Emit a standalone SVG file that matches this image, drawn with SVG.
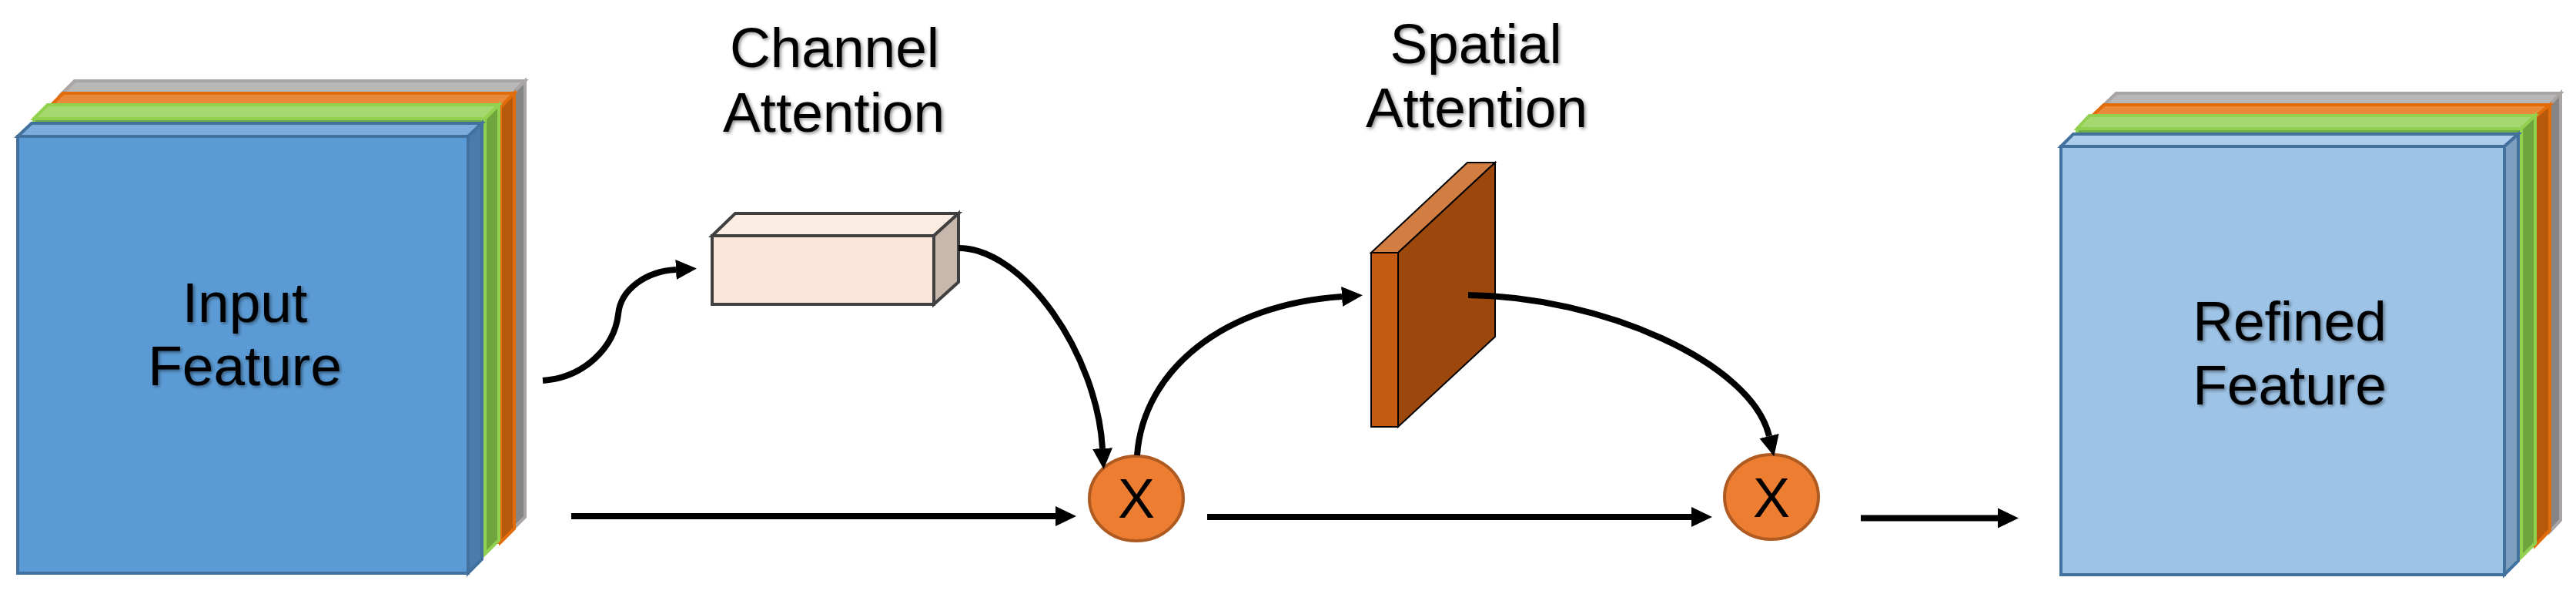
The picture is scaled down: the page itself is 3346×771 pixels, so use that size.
<svg xmlns="http://www.w3.org/2000/svg" width="3346" height="771" viewBox="0 0 3346 771">
<defs>
<style>
.t{font-family:"Liberation Sans",Arial,sans-serif;font-size:73px;fill:#000;text-anchor:middle}
.x{font-size:72px}
.s{filter:url(#sh)}
.c{fill:none;stroke:#000;stroke-width:8}
.a{marker-end:url(#ah)}
.b{stroke:#41719c;stroke-width:4;stroke-linejoin:miter}
.g{stroke:#92d050;stroke-width:4}
.o{stroke:#e36c0a;stroke-width:4}
.y{stroke:#a9a5a5;stroke-width:4}
.op{fill:#ed7d31;stroke:#ae5a21;stroke-width:4}
</style>
<filter id="sh" x="-10%" y="-10%" width="120%" height="130%"><feDropShadow dx="2" dy="2" stdDeviation="2" flood-color="#000" flood-opacity="0.45"/></filter>
<marker id="ah" markerUnits="userSpaceOnUse" markerWidth="27" markerHeight="28" refX="0" refY="14" orient="auto"><path d="M0 1L27 14L0 27Z" fill="#000"/></marker>
</defs>
<rect width="3346" height="771" fill="#fff"/>
<g id="input-feature">
<g class="y"><path d="M97 105H682V671L664 689H79V123Z" fill="#a5a5a5"/><path d="M79 123L97 105H682L664 123Z" fill="#b7b7b7"/><path d="M664 123L682 105V671L664 689Z" fill="#858585"/></g>
<g class="o"><path d="M82 121H668V686L650 704H64V139Z" fill="#ed7d31"/><path d="M64 139L82 121H668L650 139Z" fill="#e98a3b"/><path d="M650 139L668 121V686L650 704Z" fill="#b85a0b"/></g>
<g class="g"><path d="M62 136H648V701L630 719H44V154Z" fill="#70ad47"/><path d="M44 154L62 136H648L630 154Z" fill="#a5d96f"/><path d="M630 154L648 136V701L630 719Z" fill="#70a43c"/></g>
<g class="b"><path d="M23 177H608V744H23Z" fill="#5b9bd5"/><path d="M23 177L41 160H626L608 177Z" fill="#7cacdd"/><path d="M608 177L626 160V726L608 744Z" fill="#497cab"/></g>
<text class="t s" x="318" y="418">Input</text><text class="t s" x="318" y="500">Feature</text>
</g>
<g id="channel-attention">
<path d="M925 306L955 277H1245L1213 306Z" fill="#fbece1" stroke="#404040" stroke-width="4"/>
<path d="M1213 306L1245 277V366L1213 395Z" fill="#c8b7ab" stroke="#404040" stroke-width="4"/>
<rect x="925" y="306" width="288" height="89" fill="#fae5d8" stroke="#404040" stroke-width="4"/>
<text class="t s" x="1084" y="87">Channel</text><text class="t s" x="1083" y="171">Attention</text>
</g>
<g id="spatial-attention">
<path d="M1781 328L1906 211H1942L1816 328Z" fill="#d27d41" stroke="#000" stroke-width="2"/>
<path d="M1816 328L1942 211V437L1816 554Z" fill="#9c480c" stroke="#000" stroke-width="2"/>
<rect x="1781" y="328" width="35" height="226" fill="#c55a11" stroke="#000" stroke-width="2"/>
<text class="t s" x="1917" y="82">Spatial</text><text class="t s" x="1918" y="165">Attention</text>
</g>
<g id="multiply-1"><ellipse class="op" cx="1476" cy="647" rx="61" ry="55"/><text class="t x" x="1476" y="672">X</text></g>
<g id="multiply-2"><ellipse class="op" cx="2301" cy="645" rx="61" ry="55"/><text class="t x" x="2301" y="671">X</text></g>
<g id="refined-feature">
<g class="y"><path d="M2749 121H3326V675L3312 690H2733V136Z" fill="#a5a5a5"/><path d="M2733 136L2749 121H3326L3312 136Z" fill="#b7b7b7"/><path d="M3312 136L3326 121V675L3312 690Z" fill="#858585"/></g>
<g class="o"><path d="M2733 136H3312V688L3293 708H2716V152Z" fill="#ed7d31"/><path d="M2716 152L2733 136H3312L3293 152Z" fill="#e98a3b"/><path d="M3293 152L3312 136V688L3293 708Z" fill="#b85a0b"/></g>
<g class="g"><path d="M2714 150H3293V705L3275 723H2698V167Z" fill="#70ad47"/><path d="M2698 167L2714 150H3293L3275 167Z" fill="#a5d96f"/><path d="M3275 167L3293 150V705L3275 723Z" fill="#70a43c"/></g>
<g class="b"><path d="M2677 190H3253V746H2677Z" fill="#9dc3e6"/><path d="M2677 190L2693 174H3271L3253 190Z" fill="#aecdea"/><path d="M3253 190L3271 174V728L3253 746Z" fill="#7e9fbf"/></g>
<text class="t s" x="2974" y="442">Refined</text><text class="t s" x="2974" y="525">Feature</text>
</g>
<g id="connectors">
<path class="c a" d="M705 494C760 490 798 450 803 408C806 375 840 352 878 350"/>
<path class="c a" d="M1245 322C1330 322 1425 460 1432 582"/>
<path class="c a" d="M742 670H1371"/>
<path class="c a" d="M1477 591C1485 480 1590 395 1743 385"/>
<path class="c a" d="M1568 671H2197"/>
<path class="c a" d="M1907 383C2080 385 2275 470 2298 566"/>
<path class="c a" d="M2417 672.5H2595"/>
</g>
</svg>
